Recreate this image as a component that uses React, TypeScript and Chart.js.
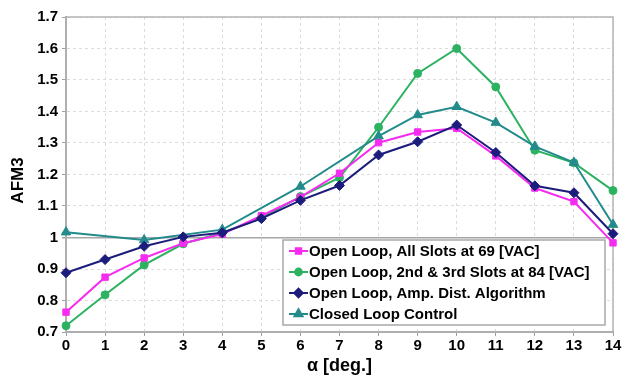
import React, { useEffect, useRef } from "react";
import { Chart, registerables } from "chart.js";
import { drawPoint } from "chart.js/helpers";

Chart.register(...registerables);

const xLabels = ["0", "1", "2", "3", "4", "5", "6", "7", "8", "9", "10", "11", "12", "13", "14"];
const yTickValues = [0.7, 0.8, 0.9, 1.0, 1.1, 1.2, 1.3, 1.4, 1.5, 1.6, 1.7];

const allSlots69 = [0.763, 0.874, 0.935, 0.982, 1.011, 1.069, 1.128, 1.204, 1.301, 1.335, 1.347, 1.259, 1.157, 1.114, 0.983];
const slots84 = [0.72, 0.818, 0.913, 0.98, 1.015, 1.062, 1.13, 1.19, 1.35, 1.521, 1.6, 1.478, 1.277, 1.237, 1.149];
const ampDist = [0.888, 0.93, 0.972, 1.002, 1.015, 1.06, 1.118, 1.165, 1.262, 1.304, 1.357, 1.27, 1.164, 1.142, 1.012];
const closedLoop = [1.017, null, 0.992, null, 1.025, null, 1.162, null, 1.322, 1.389, 1.415, 1.365, 1.289, 1.238, 1.041];

const seriesNames = [
  "Open Loop, All Slots at 69 [VAC]",
  "Open Loop, 2nd & 3rd Slots at 84 [VAC]",
  "Open Loop, Amp. Dist. Algorithm",
  "Closed Loop Control",
];

const yTitle = "AFM3";
const xTitle = "α [deg.]";

const FONT = "'Liberation Sans', Arial, Helvetica, sans-serif";

export default function App() {
  const ref = useRef<HTMLCanvasElement>(null);

  useEffect(() => {
    if (!ref.current) return;
    Chart.defaults.font.family = FONT;

    const frame = {
      id: "frame",
      beforeDatasetsDraw(chart: any) {
        const { ctx, chartArea } = chart;
        const { left, top, right, bottom } = chartArea;
        ctx.save();
        ctx.strokeStyle = "#b4b4b4";
        ctx.lineWidth = 1.5;
        ctx.strokeRect(left, top, right - left, bottom - top);
        ctx.restore();
      },
    };

    const yTitlePlugin = {
      id: "yTitlePlugin",
      afterDraw(chart: any) {
        const { ctx, chartArea } = chart;
        ctx.save();
        ctx.translate(18.5, (chartArea.top + chartArea.bottom) / 2 + 6);
        ctx.rotate(-Math.PI / 2);
        ctx.font = "bold 17px " + FONT;
        ctx.fillStyle = "#000";
        ctx.textAlign = "center";
        ctx.textBaseline = "middle";
        ctx.fillText(yTitle, 0, 0);
        ctx.restore();
      },
    };

    const legendBox = {
      id: "legendBox",
      afterDraw(chart: any) {
        const { ctx, chartArea } = chart;
        const bw = 322;
        const bh = 85;
        const bx = chartArea.right - 8 - bw;
        const by = chartArea.bottom - 7 - bh;
        ctx.save();
        ctx.fillStyle = "#ffffff";
        ctx.fillRect(bx, by, bw, bh);
        ctx.strokeStyle = "#a8a8a8";
        ctx.lineWidth = 1.5;
        ctx.strokeRect(bx, by, bw, bh);
        ctx.font = "bold 15px " + FONT;
        ctx.textBaseline = "middle";
        ctx.textAlign = "left";
        chart.data.datasets.forEach((ds: any, i: number) => {
          const y = by + 11 + i * 21;
          const x0 = bx + 6;
          const x1 = bx + 25;
          ctx.strokeStyle = ds.borderColor;
          ctx.lineWidth = 2;
          ctx.beginPath();
          ctx.moveTo(x0, y);
          ctx.lineTo(x1, y);
          ctx.stroke();
          ctx.fillStyle = ds.pointBackgroundColor;
          ctx.strokeStyle = ds.borderColor;
          drawPoint(
            ctx,
            { pointStyle: ds.pointStyle, radius: ds.pointRadius * 0.85, rotation: 0, borderWidth: 1 },
            (x0 + x1) / 2,
            y
          );
          ctx.fillStyle = "#000";
          ctx.fillText(ds.label, x1 + 1, y + 1);
        });
        ctx.restore();
      },
    };

    const mk = (label: string, data: any[], color: string, style: string, r: number, order: number) => ({
      label,
      data,
      borderColor: color,
      backgroundColor: color,
      pointBackgroundColor: color,
      pointBorderColor: color,
      pointStyle: style,
      pointRadius: r,
      pointBorderWidth: 1,
      borderWidth: 2,
      spanGaps: true,
      tension: 0,
      order,
    });

    const chart = new Chart(ref.current, {
      type: "line",
      data: {
        labels: xLabels,
        datasets: [
          mk(seriesNames[0], allSlots69, "#f52cf0", "rect", 4.5, 2),
          mk(seriesNames[1], slots84, "#2cb261", "circle", 4, 3),
          mk(seriesNames[2], ampDist, "#1c1c7c", "rectRot", 5, 0),
          mk(seriesNames[3], closedLoop, "#238b8b", "triangle", 5.5, 1),
        ] as any,
      },
      options: {
        responsive: false,
        animation: false,
        layout: { padding: { left: 0, top: 17, right: 11, bottom: 0 } },
        plugins: {
          legend: { display: false },
          tooltip: { enabled: false },
        },
        scales: {
          x: {
            type: "category",
            offset: false,
            grid: {
              offset: false,
              color: "#dcdcdc",
              lineWidth: 1,
              drawTicks: true,
              tickLength: 4,
              tickColor: "#a0a0a0",
            },
            border: { display: true, color: "#a0a0a0", width: 2, dash: [3, 3] },
            ticks: {
              color: "#000",
              font: { size: 15, weight: "bold" },
              padding: 1,
              maxRotation: 0,
              autoSkip: false,
            },
            title: {
              display: true,
              text: xTitle,
              color: "#000",
              font: { size: 18, weight: "bold" },
              padding: { top: 0, bottom: 4 },
            },
            afterFit(scale: any) {
              scale.height = 49;
            },
          },
          y: {
            type: "linear",
            min: 0.7,
            max: 1.7,
            afterBuildTicks(scale: any) {
              scale.ticks = yTickValues.map((v) => ({ value: v }));
            },
            grid: {
              color: (c: any) => (c.tick && Math.abs(c.tick.value - 1) < 1e-6 ? "#a6a6a6" : "#dcdcdc"),
              lineWidth: (c: any) => (c.tick && Math.abs(c.tick.value - 1) < 1e-6 ? 1.5 : 1),
              drawTicks: true,
              tickLength: 4,
              tickColor: "#a0a0a0",
            },
            border: {
              display: true,
              color: "#a0a0a0",
              width: 2,
              dash: (c: any) => (c.tick && Math.abs(c.tick.value - 1) < 1e-6 ? [] : [3, 3]),
            },
            ticks: {
              color: "#000",
              font: { size: 15, weight: "bold" },
              padding: 4,
              callback: (v: any) => String(Number(Number(v).toFixed(1))),
            },
            title: { display: false },
            afterFit(scale: any) {
              scale.width = 66;
            },
          },
        },
      } as any,
      plugins: [frame, yTitlePlugin, legendBox],
    });

    return () => chart.destroy();
  }, []);

  return (
    <div style={{ position: "fixed", left: 0, top: 0, width: 624, height: 381, background: "#fff" }}>
      <canvas ref={ref} width={624} height={381} style={{ display: "block" }} />
    </div>
  );
}
